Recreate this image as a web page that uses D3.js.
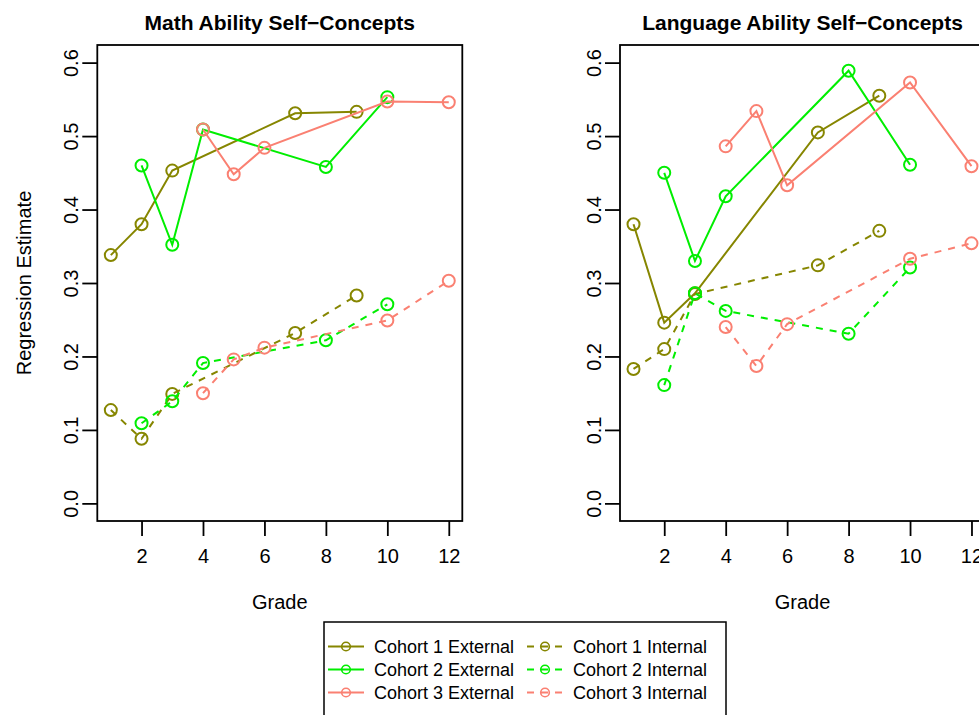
<!DOCTYPE html>
<html>
<head>
<meta charset="utf-8">
<script src="https://cdn.jsdelivr.net/npm/d3@7"></script>
<style>
  body { margin: 0; background: #fff; }
  svg { display: block; font-family: "Liberation Sans", Arial, sans-serif; }
</style>
</head>
<body>
<script>
// grades each cohort was measured at
const cohortGrades = [[1, 2, 3, 7, 9], [2, 3, 4, 8, 10], [4, 5, 6, 10, 12]];
const cohortNames = ['Cohort 1', 'Cohort 2', 'Cohort 3'];
const cohortColors = ['#868600', '#00ee00', '#fa8072'];

// regression estimates, one row per cohort
const mathExternal = [[0.338, 0.380, 0.453, 0.531, 0.533],
                      [0.460, 0.352, 0.509, 0.458, 0.553],
                      [0.509, 0.448, 0.484, 0.547, 0.546]];
const mathInternal = [[0.127, 0.088, 0.149, 0.232, 0.283],
                      [0.109, 0.139, 0.191, 0.222, 0.271],
                      [0.150, 0.196, 0.212, 0.249, 0.303]];
const langExternal = [[0.380, 0.246, 0.286, 0.505, 0.555],
                      [0.450, 0.330, 0.418, 0.589, 0.461],
                      [0.486, 0.534, 0.433, 0.573, 0.459]];
const langInternal = [[0.183, 0.210, 0.285, 0.324, 0.371],
                      [0.161, 0.286, 0.262, 0.231, 0.321],
                      [0.240, 0.187, 0.244, 0.333, 0.354]];

const xTicks = [2, 4, 6, 8, 10, 12];
const yTicks = [0, 0.1, 0.2, 0.3, 0.4, 0.5, 0.6];

const width = 979, height = 715;
const plotTop = 45, plotBottom = 521;
const panels = [
  {title: 'Math Ability Self\u2212Concepts', left: 97.3, ext: mathExternal, int: mathInternal},
  {title: 'Language Ability Self\u2212Concepts', left: 620, ext: langExternal, int: langInternal}
];
const panelWidth = 365;

const svg = d3.select('body').append('svg')
  .attr('width', width)
  .attr('height', height);

// R style axis padding: 4% each side
const yScale = d3.scaleLinear()
  .domain([0 - 0.024, 0.6 + 0.024])
  .range([plotBottom, plotTop]);

panels.forEach(function(p) {
  const xScale = d3.scaleLinear()
    .domain([1 - 0.44, 12 + 0.44])
    .range([p.left, p.left + panelWidth]);

  const g = svg.append('g');

  // series: external solid, internal dashed
  const line = d3.line().x(d => xScale(d[0])).y(d => yScale(d[1]));
  [['ext', null], ['int', '7,7']].forEach(function(kind) {
    p[kind[0]].forEach(function(vals, i) {
      const pts = cohortGrades[i].map((gr, j) => [gr, vals[j]]);
      g.append('path')
        .datum(pts)
        .attr('d', line)
        .attr('fill', 'none')
        .attr('stroke', cohortColors[i])
        .attr('stroke-width', 2)
        .attr('stroke-dasharray', kind[1]);
      g.selectAll(null)
        .data(pts)
        .join('circle')
        .attr('cx', d => xScale(d[0]))
        .attr('cy', d => yScale(d[1]))
        .attr('r', 6)
        .attr('fill', 'none')
        .attr('stroke', cohortColors[i])
        .attr('stroke-width', 2);
    });
  });

  // box
  g.append('rect')
    .attr('x', p.left)
    .attr('y', plotTop)
    .attr('width', panelWidth)
    .attr('height', plotBottom - plotTop)
    .attr('fill', 'none')
    .attr('stroke', '#000')
    .attr('stroke-width', 1.8);

  // Y axis
  const yAxis = d3.axisLeft(yScale).tickValues(yTicks).tickSize(15).tickFormat(d3.format('.1f'));
  const ya = g.append('g')
    .attr('transform', `translate(${p.left},0)`)
    .call(yAxis);
  ya.select('.domain').remove();
  ya.selectAll('line').attr('stroke-width', 1.8);
  ya.selectAll('text')
    .attr('transform', 'rotate(-90)')
    .attr('x', 0).attr('y', -19).attr('dy', 0)
    .attr('text-anchor', 'middle')
    .attr('font-size', 20)
    .attr('font-family', null)
    .attr('fill', '#000');

  // X axis
  const xAxis = d3.axisBottom(xScale).tickValues(xTicks).tickSize(15);
  const xa = g.append('g')
    .attr('transform', `translate(0,${plotBottom})`)
    .call(xAxis);
  xa.select('.domain').remove();
  xa.selectAll('line').attr('stroke-width', 1.8);
  xa.selectAll('text')
    .attr('y', 42).attr('dy', 0)
    .attr('font-size', 20)
    .attr('font-family', null)
    .attr('fill', '#000');

  // labels
  g.append('text')
    .attr('x', p.left + panelWidth / 2)
    .attr('y', 30)
    .attr('text-anchor', 'middle')
    .attr('font-weight', 'bold')
    .attr('font-size', 21)
    .text(p.title);

  g.append('text')
    .attr('x', p.left + panelWidth / 2)
    .attr('y', 609)
    .attr('text-anchor', 'middle')
    .attr('font-size', 20)
    .text('Grade');
});

svg.append('text')
  .attr('transform', `translate(31,${(plotTop + plotBottom) / 2}) rotate(-90)`)
  .attr('text-anchor', 'middle')
  .attr('font-size', 20)
  .text('Regression Estimate');

// legend
const legend = svg.append('g');
legend.append('rect')
  .attr('x', 324).attr('y', 622)
  .attr('width', 402).attr('height', 120)
  .attr('fill', '#fff')
  .attr('stroke', '#000')
  .attr('stroke-width', 1.5);

const legendCols = [
  {x: 328, label: 'External', dash: null},
  {x: 527, label: 'Internal', dash: '7,7'}
];
legendCols.forEach(function(c) {
  cohortNames.forEach(function(name, i) {
    const cy = 646.5 + i * 23;
    legend.append('line')
      .attr('x1', c.x).attr('x2', c.x + 36)
      .attr('y1', cy).attr('y2', cy)
      .attr('stroke', cohortColors[i])
      .attr('stroke-width', 2)
      .attr('stroke-dasharray', c.dash);
    legend.append('circle')
      .attr('cx', c.x + 18).attr('cy', cy)
      .attr('r', 4.3)
      .attr('fill', 'none')
      .attr('stroke', cohortColors[i])
      .attr('stroke-width', 1.6);
    legend.append('text')
      .attr('x', c.x + 46)
      .attr('y', cy + 6.5)
      .attr('font-size', 18)
      .text(name + ' ' + c.label);
  });
});
</script>
</body>
</html>
